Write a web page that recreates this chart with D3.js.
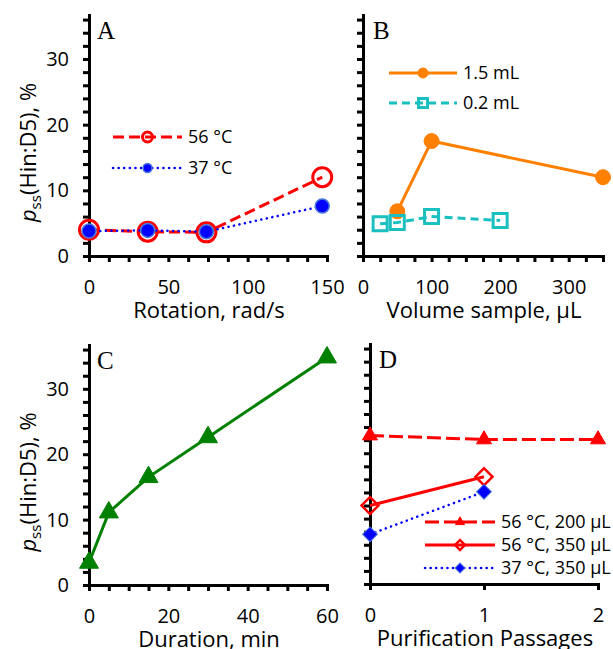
<!DOCTYPE html>
<html>
<head>
<meta charset="utf-8">
<script src="https://cdn.jsdelivr.net/npm/d3@7"></script>
<style>
	body { margin: 0; background: #fff; }
	svg text { font-family: "Open Sans", sans-serif; fill: #000; }
	.axis path, .axis line { stroke: #000; stroke-width: 3; }
	.axis text { font-size: 20px; }
	.title { font-size: 22px; }
	.legend text { font-size: 18px; }
	.letter { font-family: "Liberation Serif", serif !important; font-size: 25px; }
</style>
</head>
<body>
<svg id="chart"></svg>
<script>
// A: rotation
var rotation = [0, 37, 74, 147];
var rot56 = [4.0, 3.7, 3.6, 12.0];
var rot37 = [3.8, 3.9, 3.7, 7.6];

// B: volume sample
var vol15 = [50, 100, 350];
var val15 = [6.8, 17.5, 12.0];
var vol02 = [25, 50, 100, 200];
var val02 = [4.9, 5.1, 6.0, 5.4];

// C: duration
var duration = [0, 5, 15, 30, 60];
var durVal = [3.4, 11.1, 16.5, 22.6, 34.8];

// D: purification passages
var passes = [0, 1, 2];
var d56_200 = [22.7, 22.1, 22.1];
var d56_350 = [12.0, 16.4];
var d37_350 = [7.6, 14.1];

var yTicks = d3.range(0, 37, 2);
var yMajor = [0, 10, 20, 30];

var width = 613, height = 649;
var svg = d3.select("#chart").attr("width", width).attr("height", height);

var red = "#ff0000", blue = "#0000ff", orange = "#ff8000", teal = "#1abfbf", green = "#008000";

function makePanel(p){
	var x = d3.scaleLinear().domain(p.xDomain).range([p.left, p.right]);
	var y = d3.scaleLinear().domain([0, 36.7]).range([p.bottom, p.top]);

	svg.append("g")
		.attr("class", "axis")
		.attr("transform", "translate(0," + p.bottom + ")")
		.call(d3.axisBottom(x)
			.tickValues(p.xTicks)
			.tickSize(6).tickSizeOuter(0).tickPadding(18)
			.tickFormat(function(d){ return p.xMajor.indexOf(d) >= 0 ? d : ""; }));

	svg.append("g")
		.attr("class", "axis")
		.attr("transform", "translate(" + p.left + ",0)")
		.call(d3.axisLeft(y)
			.tickValues(yTicks)
			.tickSize(6).tickSizeOuter(0).tickPadding(14)
			.tickFormat(function(d){ return p.yLabels && yMajor.indexOf(d) >= 0 ? d : ""; }));

	svg.selectAll(".axis path.domain").attr("stroke-linecap", "square");

	svg.append("text")
		.attr("class", "letter")
		.attr("x", p.letterX).attr("y", p.top + 24)
		.text(p.letter);

	svg.append("text")
		.attr("class", "title")
		.attr("text-anchor", "middle")
		.attr("x", (p.left + p.right) / 2 + 1)
		.attr("y", p.bottom + 62)
		.text(p.xTitle);

	if (p.yLabels) {
		var t = svg.append("text")
			.attr("class", "title")
			.attr("text-anchor", "middle")
			.attr("transform", "translate(36," + ((p.top + p.bottom) / 2 + 17) + ") rotate(-90)");
		t.append("tspan").attr("font-style", "italic").text("p");
		t.append("tspan").attr("font-size", "15px").attr("dy", 5).text("ss");
		t.append("tspan").attr("dy", -5).text("(Hin:D5), %");
	}
	return {x: x, y: y};
}

function series(s, xs, ys, opt){
	var pts = xs.map(function(d, i){ return [s.x(d), s.y(ys[i])]; });
	svg.append("path")
		.attr("d", d3.line()(pts))
		.attr("fill", "none")
		.attr("stroke", opt.color)
		.attr("stroke-width", opt.width || 3)
		.attr("stroke-dasharray", opt.dash || null)
		.attr("stroke-linecap", opt.cap || "butt");
	pts.forEach(function(pt){ marker(pt[0], pt[1], opt.marker, opt.size); });
}

function marker(cx, cy, m, size){
	var g = svg.append("g").attr("transform", "translate(" + cx + "," + cy + ")");
	if (m.type === "circle") {
		g.append("circle").attr("r", size)
			.attr("fill", m.fill).attr("stroke", m.stroke).attr("stroke-width", m.sw);
	} else {
		var sym = m.type === "triangle" ? d3.symbolTriangle : d3.symbolSquare;
		var area = m.type === "triangle" ? Math.sqrt(3) / 4 * size * size : size * size;
		g.append("path")
			.attr("d", d3.symbol(sym, area)())
			.attr("transform", m.type === "diamond" ? "rotate(45)" : null)
			.attr("fill", m.fill).attr("stroke", m.stroke).attr("stroke-width", m.sw);
	}
}

function legendItem(x1, x2, y, label, opt){
	svg.append("line")
		.attr("x1", x1).attr("x2", x2).attr("y1", y).attr("y2", y)
		.attr("stroke", opt.color)
		.attr("stroke-width", opt.width || 3)
		.attr("stroke-dasharray", opt.dash || null)
		.attr("stroke-linecap", opt.cap || "butt");
	marker((x1 + x2) / 2, y, opt.marker, opt.legendSize);
	svg.append("text")
		.attr("class", "legend")
		.attr("x", x2 + 6).attr("y", y + 6)
		.style("font-size", "18px")
		.text(label);
}

// Styles
var sty56 = {color: red, dash: "11,5", marker: {type: "circle", fill: "none", stroke: red, sw: 3}, size: 9.5, legendSize: 5};
var sty37 = {color: blue, width: 2.5, dash: "0.1,5.5", cap: "round", marker: {type: "circle", fill: blue, stroke: "#4a78d8", sw: 1.5}, size: 7, legendSize: 4.5};
var sty15 = {color: orange, marker: {type: "circle", fill: orange, stroke: orange, sw: 1}, size: 7.5, legendSize: 5};
var sty02 = {color: teal, dash: "8,5", marker: {type: "square", fill: "none", stroke: teal, sw: 3}, size: 14, legendSize: 9};
var styC = {color: green, marker: {type: "triangle", fill: green, stroke: green, sw: 1}, size: 19};
var styD200 = {color: red, dash: "14,5", marker: {type: "triangle", fill: red, stroke: red, sw: 1}, size: 15, legendSize: 9};
var styD350 = {color: red, marker: {type: "diamond", fill: "none", stroke: red, sw: 2.5}, size: 12, legendSize: 7};
var styD37 = {color: blue, width: 2.5, dash: "0.1,5.5", cap: "round", marker: {type: "diamond", fill: blue, stroke: "#4a78d8", sw: 1}, size: 10.5, legendSize: 7};

// Panel A
var A = makePanel({left: 89, right: 327, top: 15, bottom: 256, xDomain: [0, 150],
	xTicks: d3.range(0, 151, 12.5), xMajor: [0, 50, 100, 150], yLabels: true,
	letter: "A", letterX: 97, xTitle: "Rotation, rad/s"});
series(A, rotation, rot56, sty56);
series(A, rotation, rot37, sty37);
legendItem(113, 182, 137, "56 °C", sty56);
legendItem(113, 182, 168, "37 °C", sty37);

// Panel B
var B = makePanel({left: 363, right: 603, top: 15, bottom: 256, xDomain: [0, 350],
	xTicks: d3.range(0, 351, 25), xMajor: [0, 100, 200, 300], yLabels: false,
	letter: "B", letterX: 373, xTitle: "Volume sample, µL"});
series(B, vol15, val15, sty15);
series(B, vol02, val02, sty02);
legendItem(389, 457, 73, "1.5 mL", sty15);
legendItem(389, 457, 103, "0.2 mL", sty02);

// Panel C
var C = makePanel({left: 89, right: 327, top: 345, bottom: 585, xDomain: [0, 60],
	xTicks: d3.range(0, 61, 5), xMajor: [0, 20, 40, 60], yLabels: true,
	letter: "C", letterX: 97, xTitle: "Duration, min"});
series(C, duration, durVal, styC);

// Panel D
var D = makePanel({left: 370, right: 598, top: 344, bottom: 584, xDomain: [0, 2],
	xTicks: [0, 1, 2], xMajor: [0, 1, 2], yLabels: false,
	letter: "D", letterX: 379, xTitle: "Purification Passages"});
series(D, passes, d56_200, styD200);
series(D, passes.slice(0, 2), d56_350, styD350);
series(D, passes.slice(0, 2), d37_350, styD37);
legendItem(425, 495, 522, "56 °C, 200 µL", styD200);
legendItem(425, 495, 545, "56 °C, 350 µL", styD350);
legendItem(425, 495, 568, "37 °C, 350 µL", styD37);
</script>
</body>
</html>
